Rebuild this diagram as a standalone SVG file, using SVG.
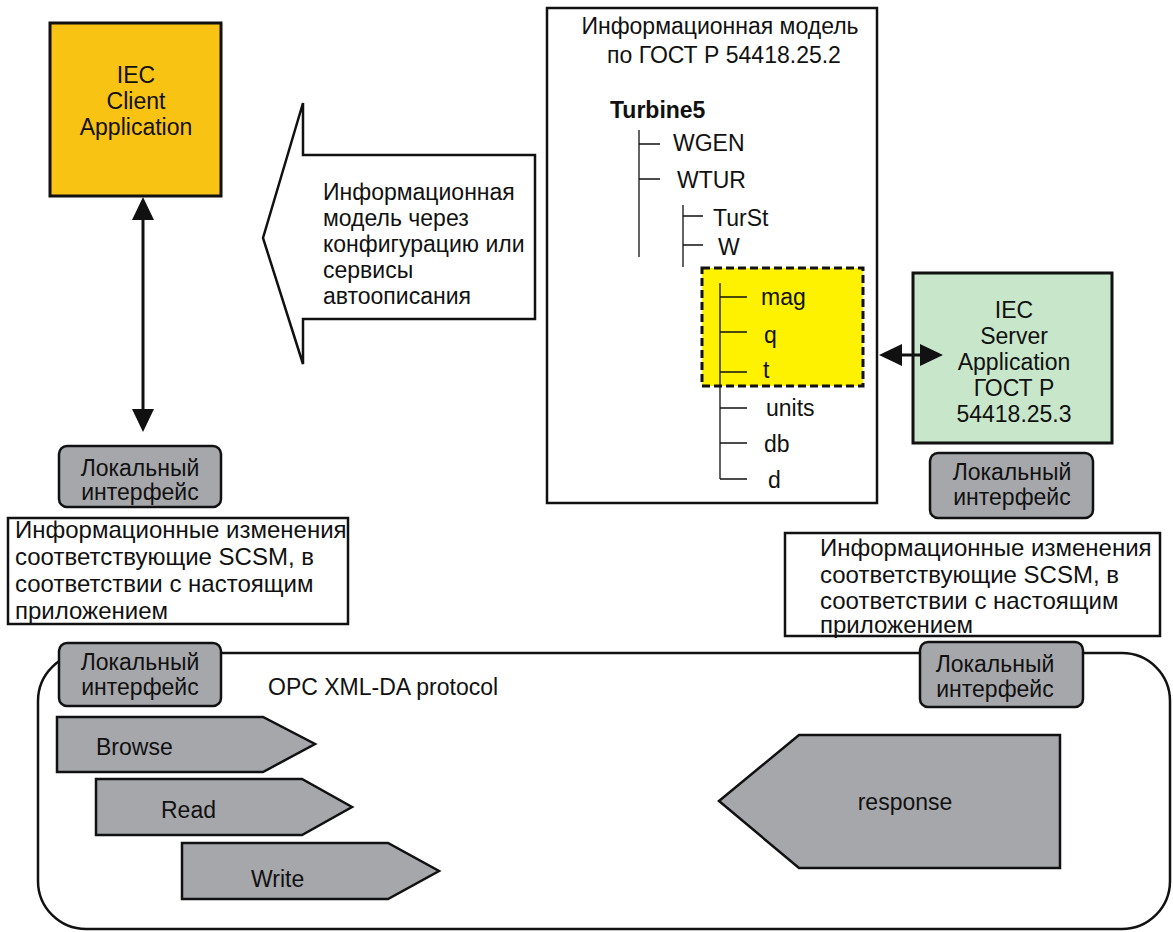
<svg xmlns="http://www.w3.org/2000/svg" width="1173" height="932" viewBox="0 0 1173 932">
<defs>
<style>
text{font-family:"Liberation Sans",Arial,sans-serif;font-size:23px;fill:#111}
.c{text-anchor:middle}
.b{font-weight:bold}
.big{font-size:24px}
.box{fill:#fff;stroke:#111;stroke-width:2.5}
.loc{fill:#a6a7ab;stroke:#111;stroke-width:2.5}
.sh{fill:#a6a7ab;stroke:#111;stroke-width:2.5;stroke-linejoin:miter}
.tree{stroke:#111;stroke-width:1.3;fill:none}
.con{stroke:#111;stroke-width:3;fill:none}
</style>
<marker id="ah" viewBox="0 0 23 22" refX="2" refY="11" markerWidth="23" markerHeight="22" markerUnits="userSpaceOnUse" orient="auto-start-reverse">
<path d="M0,0 L23,11 L0,22 z" fill="#111"/>
</marker>
</defs>
<rect width="1173" height="932" fill="#fff"/>

<g id="protocol-container">
<rect x="38" y="653" width="1132" height="276" rx="48" ry="48" fill="none" stroke="#111" stroke-width="2.5"/>
<text x="268" y="695">OPC XML-DA protocol</text>
</g>

<g id="client">
<rect x="50" y="23" width="171" height="173" fill="#f9c314" stroke="#111" stroke-width="3"/>
<text class="c" x="136" y="83">IEC</text>
<text class="c" x="136" y="109">Client</text>
<text class="c" x="136" y="135">Application</text>
</g>

<g id="callout">
<polygon points="535,155 303,155 303,103 263,238 303,364 303,319 535,319" fill="#fff" stroke="#111" stroke-width="2.5"/>
<text x="323" y="200">Информационная</text>
<text x="323" y="226">модель через</text>
<text x="323" y="252">конфигурацию или</text>
<text x="323" y="278">сервисы</text>
<text x="323" y="304">автоописания</text>
</g>

<g id="info-model">
<rect class="box" x="547" y="8" width="330" height="495"/>
<text class="c" x="720" y="34">Информационная модель</text>
<text class="c" x="724" y="63">по ГОСТ Р 54418.25.2</text>
<text class="b" x="610" y="118">Turbine5</text>
<rect x="702" y="268" width="161" height="118" fill="#fff200" stroke="#111" stroke-width="3" stroke-dasharray="8,4"/>
<path class="tree" d="M639,130 V257 M639,144 H660 M639,179 H660 M683,205 V267 M683,216 H703 M683,245 H703 M720,283 V479 M720,297 H747 M720,332 H747 M720,372 H747 M720,408 H747 M720,443 H747 M720,479 H747"/>
<text x="673" y="151">WGEN</text>
<text x="677" y="188">WTUR</text>
<text x="713" y="226">TurSt</text>
<text x="718" y="255">W</text>
<text x="761" y="305">mag</text>
<text x="764" y="343">q</text>
<text x="763" y="378">t</text>
<text x="766" y="416">units</text>
<text x="764" y="452">db</text>
<text x="768" y="488">d</text>
</g>

<g id="server">
<rect x="913" y="273" width="199" height="170" fill="#c8e6c9" stroke="#111" stroke-width="3"/>
<text class="c" x="1014" y="318">IEC</text>
<text class="c" x="1014" y="344">Server</text>
<text class="c" x="1014" y="370">Application</text>
<text class="c" x="1014" y="396">ГОСТ Р</text>
<text class="c" x="1014" y="422">54418.25.3</text>
</g>

<g id="local-client">
<rect class="loc" x="59" y="446" width="162" height="61" rx="8"/>
<text class="c" x="140" y="476">Локальный</text>
<text class="c" x="140" y="500">интерфейс</text>
</g>

<g id="local-server">
<rect class="loc" x="930" y="453" width="163" height="65" rx="8"/>
<text class="c" x="1012" y="480">Локальный</text>
<text class="c" x="1012" y="505">интерфейс</text>
</g>

<g id="changes-client">
<rect class="box" x="8" y="518" width="340" height="106"/>
<text class="big" x="15" y="538">Информационные изменения</text>
<text class="big" x="15" y="565">соответствующие SCSM, в</text>
<text class="big" x="15" y="592">соответствии с настоящим</text>
<text class="big" x="15" y="619">приложением</text>
</g>

<g id="changes-server">
<rect class="box" x="785" y="533" width="375" height="103"/>
<text class="big" x="820" y="556">Информационные изменения</text>
<text class="big" x="820" y="583">соответствующие SCSM, в</text>
<text class="big" x="820" y="609">соответствии с настоящим</text>
<text class="big" x="820" y="633">приложением</text>
</g>

<g id="local-protocol-client">
<rect class="loc" x="59" y="643" width="162" height="63" rx="8"/>
<text class="c" x="140" y="670">Локальный</text>
<text class="c" x="140" y="695">интерфейс</text>
</g>

<g id="local-protocol-server">
<rect class="loc" x="920" y="642" width="163" height="65" rx="8"/>
<text class="c" x="995" y="672">Локальный</text>
<text class="c" x="995" y="697">интерфейс</text>
</g>

<g id="browse">
<polygon class="sh" points="57,717 263,717 315,744 263,772 57,772"/>
<text x="96" y="755">Browse</text>
</g>
<g id="read">
<polygon class="sh" points="96,779 302,779 352,807 302,835 96,835"/>
<text x="161" y="818">Read</text>
</g>
<g id="write">
<polygon class="sh" points="182,843 388,843 439,871 388,899 182,899"/>
<text x="251" y="887">Write</text>
</g>
<g id="response">
<polygon class="sh" points="1060,735 799,735 719,801 799,868 1060,868"/>
<text class="c" x="905" y="810">response</text>
</g>

<g id="connectors">
<line class="con" x1="143" y1="218" x2="143" y2="411" marker-start="url(#ah)" marker-end="url(#ah)"/>
<line class="con" x1="900" y1="355" x2="922" y2="355" marker-start="url(#ah)" marker-end="url(#ah)"/>
</g>
</svg>
